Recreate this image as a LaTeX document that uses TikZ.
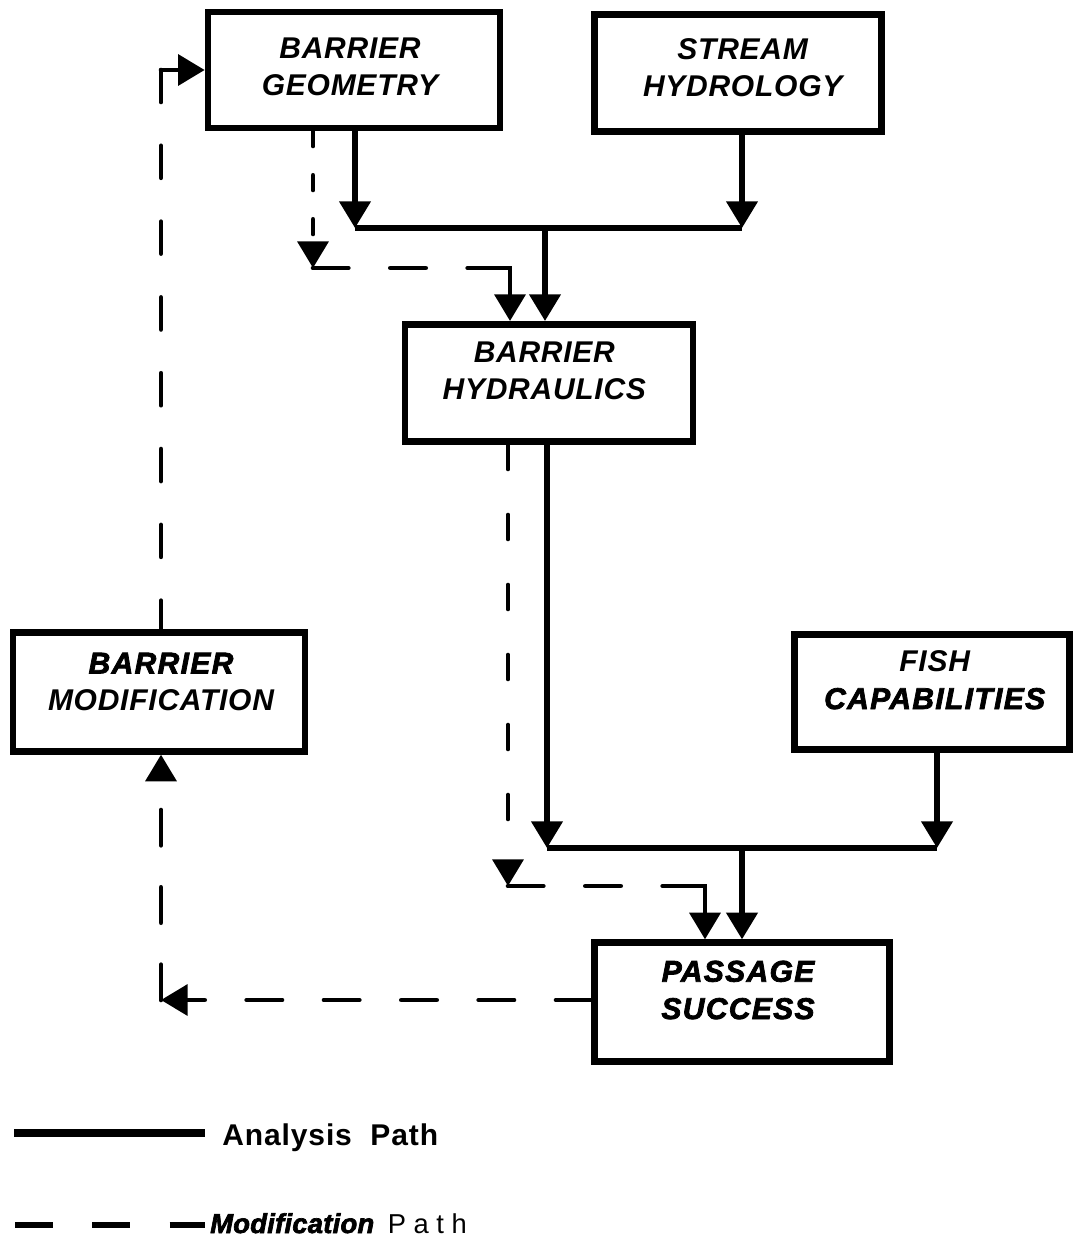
\documentclass[tikz,border=0pt]{standalone}
\usepackage{fontspec}
\setmainfont{Liberation Sans}
\newfontfamily\boxfont[LetterSpace=2.5]{Liberation Sans}
\newfontfamily\heavyfont[LetterSpace=4.5,BoldItalicFeatures={FakeBold=2.5}]{Liberation Sans}
\newfontfamily\heavyleg[LetterSpace=1,BoldItalicFeatures={FakeBold=2.5}]{Liberation Sans}
\newfontfamily\legfont[LetterSpace=3]{Liberation Sans}
\usetikzlibrary{arrows.meta}
\tikzset{
  box/.style={draw, line width=5pt, inner sep=0pt},
  btxt/.style={font=\boxfont\fontsize{22.5}{28}\selectfont\bfseries\itshape, align=center, inner sep=0pt},
  htxt/.style={font=\heavyfont\fontsize{22.5}{28}\selectfont\bfseries\itshape, align=center, inner sep=0pt},
  arr/.style={-{Triangle[length=20pt,width=23pt]}},
  apath/.style={line width=4pt},
  mbase/.style={line width=3.5pt, line cap=round},
  mshort/.style={mbase, dash pattern=on 11pt off 22pt},
  mlong/.style={mbase, dash pattern=on 26.5pt off 31.5pt},
  mvert/.style={mbase, dash pattern=on 18pt off 34.5pt},
  mleft/.style={mbase, dash pattern=on 24pt off 32.86pt},
}
\begin{document}
\begin{tikzpicture}[x=0.75pt,y=-0.75pt]
\useasboundingbox (0,0) rectangle (1074,1241);
% boxes
\node[box, minimum width=219pt, minimum height=87pt] (bg) at (354,70) {};
\node[box, minimum width=215pt, minimum height=88pt] (sh) at (738,73) {};
\node[box, minimum width=216pt, minimum height=88pt] (bh) at (549,383) {};
\node[box, minimum width=219pt, minimum height=89pt] (bm) at (159,692) {};
\node[box, minimum width=206pt, minimum height=86pt] (fc) at (932,692) {};
\node[box, minimum width=221pt, minimum height=89pt] (ps) at (742,1002) {};
% box texts
\node[btxt] (bgT) at ([xshift=-3pt,yshift=2.25pt]bg.center) {BARRIER\\GEOMETRY};
\node[btxt] (shT) at ([xshift=3.5pt,yshift=3.75pt]sh.center) {STREAM\\HYDROLOGY};
\node[btxt] (bhT) at ([xshift=-3.5pt,yshift=9pt]bh.center) {BARRIER\\HYDRAULICS};
\node[btxt] (bmT) at ([xshift=1.5pt,yshift=7.5pt]bm.center) {{\heavyfont\bfseries\itshape BARRIER}\\MODIFICATION};
\node[btxt] (fcT) at ([xshift=2pt,yshift=9pt]fc.center) {FISH\\{\heavyfont\bfseries\itshape CAPABILITIES}};
\node[htxt] (psT) at ([xshift=-3pt,yshift=9pt]ps.center) {PASSAGE\\SUCCESS};
% upper analysis junction
\coordinate (j1L) at (355,228);
\coordinate (j1R) at (742,228);
\coordinate (j1M) at (545,228);
\draw[apath,arr] (bg.south -| j1L) -- (j1L);
\draw[apath,arr] (sh.south -| j1R) -- (j1R);
\draw[apath] (j1L) -- (j1R);
\draw[apath,arr] (j1M) -- (j1M |- bh.north);
% upper modification path
\coordinate (d1) at (313,268);
\coordinate (d1r) at (510,268);
\coordinate (d1k) at (489,268);
\draw[mshort,arr] (bg.south -| d1) -- (d1);
\draw[mlong] (d1) -- (d1k);
\draw[mbase,arr] (d1k) -- (d1r) -- (d1r |- bh.north);
% lower analysis junction
\coordinate (j2L) at (547,848);
\coordinate (j2R) at (937,848);
\coordinate (j2M) at (742,848);
\draw[apath,arr] (bh.south -| j2L) -- (j2L);
\draw[apath,arr] (fc.south -| j2R) -- (j2R);
\draw[apath] (j2L) -- (j2R);
\draw[apath,arr] (j2M) -- (j2M |- ps.north);
% lower modification path
\coordinate (d2) at (508,886);
\coordinate (d2r) at (705,886);
\coordinate (d2k) at (664,886);
\draw[mvert,arr] (bh.south -| d2) -- (d2);
\draw[mlong] (d2) -- (d2k);
\draw[mbase,arr] (d2k) -- (d2r) -- (d2r |- ps.north);
% feedback loop
\coordinate (c1) at (161,70);
\coordinate (c2) at (161,1000);
\draw[mlong,arr] (ps.west |- c2) -- (c2);
\draw[mlong,arr] (c2) -- (c2 |- bm.south);
\draw[mleft] (c1) -- (bm.north -| c1);
\draw[mbase,arr] (c1) -- (c1 -| bg.west);
% legend
\coordinate (la) at (14,1133);
\coordinate (lb) at (205,1133);
\draw[line width=6pt] (la) -- (lb);
\node[anchor=base west, inner sep=0pt, font=\legfont\fontsize{22.5}{26}\selectfont\bfseries] (laT) at (222,1145) {Analysis~~Path};
\coordinate (ma) at (15,1225);
\coordinate (mb) at (205,1225);
\draw[line width=5pt, dash pattern=on 28.5pt off 29.5pt] (ma) -- (mb);
\node[anchor=base west, inner sep=0pt, font=\fontsize{20.5}{24}\selectfont] (maT) at (210,1233) {{\heavyleg\bfseries\itshape Modification}\,\,\,P a t h};
\end{tikzpicture}
\end{document}
